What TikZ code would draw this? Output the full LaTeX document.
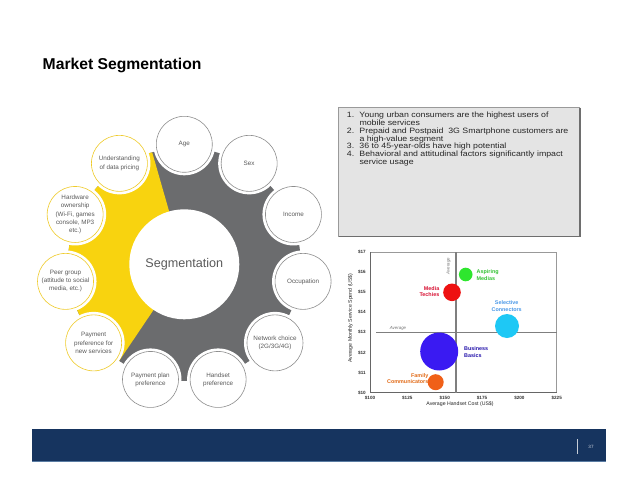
\documentclass[tikz,border=0pt]{standalone}
\usepackage{fontspec}
\setmainfont{Liberation Sans}
\newfontfamily\boxfont[FakeStretch=1.14]{Liberation Sans}
\usetikzlibrary{calc}
\definecolor{geargray}{HTML}{6B6C6E}
\definecolor{gearyellow}{HTML}{F8D30F}
\definecolor{ringgray}{HTML}{8E8E8E}
\definecolor{ringyellow}{HTML}{EFCB2A}
\definecolor{wheeltext}{HTML}{5A5A5A}
\definecolor{navy}{HTML}{16345F}
\definecolor{navyedge}{HTML}{5A7CA3}
\definecolor{boxfill}{HTML}{E4E4E4}
\definecolor{boxedge}{HTML}{6E6E6E}
\definecolor{boxlight}{HTML}{9A9A9A}
\definecolor{bgreen}{HTML}{2EE62E}
\definecolor{bred}{HTML}{EE1111}
\definecolor{bcyan}{HTML}{1EC8F5}
\definecolor{bblue}{HTML}{3A1AF2}
\definecolor{borange}{HTML}{F06018}
\definecolor{lgreen}{HTML}{33C233}
\definecolor{lred}{HTML}{D81133}
\definecolor{lcyan}{HTML}{4A98E8}
\definecolor{lblue}{HTML}{2211AA}
\definecolor{lorange}{HTML}{E26A16}
\definecolor{avggray}{HTML}{7F7F7F}
\tikzset{
  smallc/.style={circle, minimum size=56pt, inner sep=0pt, fill=white, draw=ringgray, line width=0.6pt,
    text=wheeltext, font=\fontsize{6.3}{8.1}\selectfont, align=center},
  smally/.style={smallc, draw=ringyellow},
  ticklab/.style={font=\bfseries\fontsize{4.6}{5}\selectfont, text=black!80, inner sep=0pt},
  bublab/.style={font=\bfseries\fontsize{5.4}{6.4}\selectfont, inner sep=0pt},
  avglab/.style={font=\itshape\fontsize{4.4}{5}\selectfont, text=black!55, inner sep=0pt},
  axtitle/.style={font=\fontsize{5.2}{6}\selectfont, text=black!85, inner sep=0pt},
}
\begin{document}
\begin{tikzpicture}[x=1pt,y=-1pt]
\useasboundingbox (0,0) rectangle (638,493);
\fill[white] (0,0) rectangle (638,493);

% title
\node[anchor=base west, inner sep=0pt, font=\bfseries\fontsize{15.7}{17}\selectfont] (title) at (42.5,69.3) {Market Segmentation};

% ---------- wheel ----------
\coordinate (C) at (184.3,264.3);
\fill[geargray] (C) circle[radius=116.5];
\fill[gearyellow] (C) -- ++(-106:116.5) arc[start angle=-106, end angle=-236, radius=116.5] -- cycle;
\foreach \k in {0,...,10}{
  \fill[white] ($(C)+({\k*32.727-90}:120)$) circle[radius=31];
}
\fill[white] (C) circle[radius=55];
\node[font=\fontsize{12.6}{14}\selectfont, text=wheeltext] (seg) at (C) {Segmentation};

\node[smallc] (c0) at ($(C)+({0*32.727-90}:120)$) {Age};
\node[smallc] (c1) at ($(C)+({1*32.727-90}:120)$) {Sex};
\node[smallc] (c2) at ($(C)+({2*32.727-90}:120)$) {Income};
\node[smallc] (c3) at ($(C)+({3*32.727-90}:120)$) {Occupation};
\node[smallc] (c4) at ($(C)+({4*32.727-90}:120)$) {Network choice\\(2G/3G/4G)};
\node[smallc] (c5) at ($(C)+({5*32.727-90}:120)$) {Handset\\preference};
\node[smallc] (c6) at ($(C)+({6*32.727-90}:120)$) {Payment plan\\preference};
\node[smally] (c7) at ($(C)+({7*32.727-90}:120)$) {Payment\\preference for\\new services};
\node[smally] (c8) at ($(C)+({8*32.727-90}:120)$) {Peer group\\(attitude to social\\media, etc.)};
\node[smally] (c9) at ($(C)+({9*32.727-90}:120)$) {Hardware\\ownership\\(Wi-Fi, games\\console, MP3\\etc.)};
\node[smally] (c10) at ($(C)+({10*32.727-90}:120)$) {Understanding\\of data pricing};

% ---------- text box ----------
\fill[boxfill] (338.5,107.5) rectangle (580,236.5);
\draw[boxlight, line width=1pt] (338.5,236.5) -- (338.5,107.5) -- (580,107.5);
\draw[boxedge, line width=1.4pt] (580,107.5) -- (580,236.5) -- (338.5,236.5);
\node[anchor=north west, inner sep=0pt, align=left, text=black!85,
      font=\boxfont\fontsize{7.7}{7.8}\selectfont] (list) at (346.7,112)
{\makebox[12.6pt][l]{1.}Young urban consumers are the highest users of\\
 \hspace*{12.6pt}mobile services\\
 \makebox[12.6pt][l]{2.}Prepaid and Postpaid\ \ 3G Smartphone customers are\\
 \hspace*{12.6pt}a high-value segment\\
 \makebox[12.6pt][l]{3.}36 to 45-year-olds have high potential\\
 \makebox[12.6pt][l]{4.}Behavioral and attitudinal factors significantly impact\\
 \hspace*{12.6pt}service usage};

% ---------- chart ----------
\draw[black!40, line width=0.5pt] (370,252) rectangle (556.7,392.7);
\draw[black!60, line width=0.6pt] (370,252) -- (370,392.7) -- (556.7,392.7);
\foreach \v/\y in {10/392.7,11/372.6,12/352.5,13/332.4,14/312.3,15/292.2,16/272.1,17/252.0}{
  \node[ticklab, anchor=east] (yt\v) at (366,\y) {\$\v};
}
\foreach \v/\x in {100/370,125/407.3,150/444.7,175/482,200/519.4,225/556.7}{
  \node[ticklab] (xt\v) at (\x,398.2) {\$\v};
}
\node[axtitle] (xtitle) at (460,404.6) {Average Handset Cost (US\$)};
\node[axtitle, rotate=90] (ytitle) at (350.5,318) {Average Monthly Service Spend (US\$)};

\coordinate (vt) at (455.7,252);
\coordinate (vb) at (455.7,392.7);
\coordinate (hl) at (376,332.6);
\coordinate (hr) at (556.7,332.6);
\draw[avggray, line width=1.6pt] (vt) -- (vb);
\draw[avggray, line width=1.6pt] (hl) -- (hr);
\node[avglab] (avgh) at (398,328.8) {Average};
\node[avglab, rotate=90] (avgv) at (448.6,266) {Average};

\fill[bgreen] (465.7,274.5) circle[radius=6.8];
\fill[bred] (452,292.3) circle[radius=8.8];
\fill[bcyan] (507,326) circle[radius=12];
\fill[bblue] (439.2,351.5) circle[radius=19];
\fill[borange] (435.7,382.2) circle[radius=8];

\node[bublab, text=lgreen, anchor=west, align=left] (l1) at (476.5,275) {Aspiring\\Medias};
\node[bublab, text=lred, anchor=east, align=right] (l2) at (439.5,291.7) {Media\\Techies};
\node[bublab, text=lcyan, align=center] (l3) at (506.7,306) {Selective\\Connectors};
\node[bublab, text=lblue, anchor=west, align=left] (l4) at (464,352) {Business\\Basics};
\node[bublab, text=lorange, anchor=east, align=right] (l5) at (428.5,378.3) {Family\\Communicators};

% ---------- footer ----------
\fill[navy] (32,429) rectangle (606,461.5);
\draw[navyedge, line width=0.8pt] (32,461.2) -- (606,461.2);
\coordinate (s1) at (577.7,439);
\coordinate (s2) at (577.7,454);
\draw[white!75!navy, line width=0.6pt] (s1) -- (s2);
\node[font=\fontsize{4.6}{5}\selectfont, text=white!80!navy, inner sep=0pt] (pg) at (591,446.5) {37};
\end{tikzpicture}
\end{document}
